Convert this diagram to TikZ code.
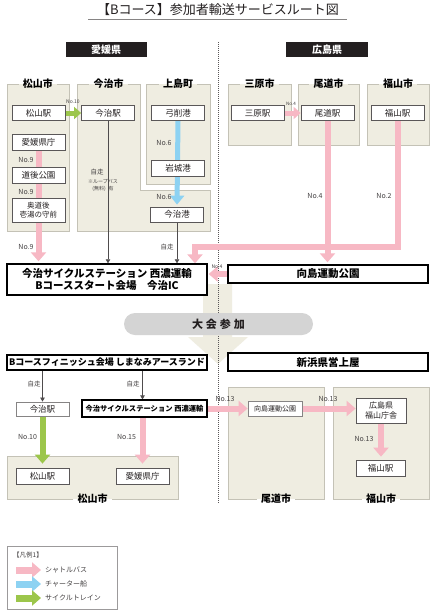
\documentclass[tikz,border=0pt]{standalone}
\usepackage{fontspec}
\setmainfont{Noto Sans CJK JP}
\usetikzlibrary{arrows.meta}
\definecolor{beige}{HTML}{EFEDE1}
\definecolor{regc}{HTML}{C4C2B6}
\definecolor{pinkc}{HTML}{F7B8C4}
\definecolor{bluec}{HTML}{8DD2F2}
\definecolor{greenc}{HTML}{9CC64B}
\definecolor{pillc}{HTML}{D4D4D4}
\definecolor{txt}{HTML}{231F20}
\pgfdeclarelayer{back}
\pgfdeclarelayer{bg}
\pgfdeclarelayer{arr}
\pgfsetlayers{back,bg,arr,main}
\tikzset{
  station/.style={draw=txt!75, line width=0.8pt, fill=white, minimum width=53pt, minimum height=15pt, inner sep=0pt, text=txt, font=\fontsize{8.5}{10}\selectfont, align=center},
  station2/.style={station, draw=txt!55},
  bigbox/.style={draw=black, line width=1.4pt, fill=white, inner sep=0pt, text=black, font=\bfseries\fontsize{10.5}{12.5}\selectfont, align=center},
  regtitle/.style={inner xsep=4pt, inner ysep=0pt, text=black, font=\bfseries\fontsize{10}{10}\selectfont},
  regline/.style={draw=regc, line width=0.8pt},
  header/.style={fill=txt, text=white, minimum height=15pt, inner sep=0pt, font=\bfseries\fontsize{10}{10}\selectfont},
  lbl/.style={text=txt!85, inner sep=0pt, font=\fontsize{#1}{#1}\selectfont},
  pinkarr/.style={draw=pinkc, line width=6pt, line join=miter, -{Triangle[width=15pt,length=9pt]}},
  pinksm/.style={draw=pinkc, line width=5pt, -{Triangle[width=12pt,length=7pt]}},
  bluearr/.style={draw=bluec, line width=5pt, -{Triangle[width=14pt,length=9pt]}},
  greenarr/.style={draw=greenc, line width=6pt, -{Triangle[width=15pt,length=9pt]}},
  greensm/.style={draw=greenc, line width=5pt, -{Triangle[width=12pt,length=7pt]}},
  walk/.style={draw=txt!80, line width=0.7pt, -{Triangle[width=4.5pt,length=4pt]}},
  legarr/.style={line width=7pt, -{Triangle[width=15pt,length=9pt]}},
}
\newcommand{\regT}[6]{%
  \fill[beige] (#2,#3) rectangle (#4,#5);
  \node[regtitle] (#1) at ({(#2+#4)/2},#3) {#6};
  \draw[regline] (#1.east) -- (#4,#3) -- (#4,#5) -- (#2,#5) -- (#2,#3) -- (#1.west);
}
\newcommand{\regB}[6]{%
  \fill[beige] (#2,#3) rectangle (#4,#5);
  \node[regtitle] (#1) at ({(#2+#4)/2},#5) {#6};
  \draw[regline] (#1.west) -- (#2,#5) -- (#2,#3) -- (#4,#3) -- (#4,#5) -- (#1.east);
}
\begin{document}
\begin{tikzpicture}[x=1pt,y=-1pt]
\begin{pgfonlayer}{back}
\fill[white] (0,0) rectangle (436,611);
\end{pgfonlayer}
\useasboundingbox (0,0) rectangle (436,611);

% title
\node[text=txt, inner sep=0pt, font=\fontsize{13}{13}\selectfont] (title) at (218,10) {【Bコース】参加者輸送サービスルート図};
\draw[txt!55, line width=0.8pt] (88,19.5) -- (347,19.5);

% headers
\node[header, minimum width=81pt] (hEhime) at (106,49.5) {愛媛県};
\node[header, minimum width=82pt] (hHiro) at (327,49.5) {広島県};

% regions
\begin{pgfonlayer}{bg}
  \regT{rMts}{7}{84}{69}{231}{松山市}
  \fill[beige] (77,84) -- (140,84) -- (140,190) -- (210,190) -- (210,231) -- (77,231) -- cycle;
  \node[regtitle] (rImb) at (108.5,84) {今治市};
  \draw[regline] (rImb.east) -- (140,84) -- (140,190) -- (210,190) -- (210,231) -- (77,231) -- (77,84) -- (rImb.west);
  \regT{rKami}{146}{84}{210}{184}{上島町}
  \regT{rMih}{228}{84}{291}{145}{三原市}
  \regT{rOno}{298}{84}{359}{145}{尾道市}
  \regT{rFuk}{367}{84}{429}{145}{福山市}
  \regB{rMts2}{7}{456}{178}{499}{松山市}
  \regB{rOno2}{228}{387}{324}{499}{尾道市}
  \regB{rFuk2}{333}{387}{429}{499}{福山市}
  % big beige arrow
  \fill[beige] (203,284) -- (232,284) -- (232,337) -- (248,337) -- (218,364) -- (188,337) -- (203,337) -- cycle;
\end{pgfonlayer}

% stations top
\node[station] (mtsSt) at (38.5,113) {松山駅};
\node[station] (imbSt) at (108,113) {今治駅};
\node[station] (yugeSt) at (178,113) {弓削港};
\node[station] (miharaSt) at (257.5,113) {三原駅};
\node[station] (onoSt) at (327.5,113) {尾道駅};
\node[station] (fukuSt) at (397.5,113) {福山駅};
\node[station, minimum height=16pt] (kencho) at (38.5,142) {愛媛県庁};
\node[station, minimum height=16pt] (dogo) at (38.5,175) {道後公園};
\node[station, minimum height=24pt, font=\fontsize{7.5}{9}\selectfont] (okudogo) at (38.5,210) {奥道後\\壱湯の守前};
\node[station, minimum height=16pt] (iwagi) at (178,168) {岩城港};
\node[station] (imbPort) at (177,214.5) {今治港};

% big boxes
\node[bigbox, minimum width=200pt, minimum height=31pt] (start) at (107,279.5) {今治サイクルステーション 西濃運輸\\Bコーススタート会場　今治IC};
\node[bigbox, minimum width=200pt, minimum height=18pt] (mukai) at (328,274) {向島運動公園};
\node[fill=pillc, rounded corners=11pt, minimum width=189pt, minimum height=22pt, inner sep=0pt, text=txt, font=\bfseries\fontsize{11}{11}\selectfont] (pill) at (218.5,324) {大\hspace{3pt}会\hspace{3pt}参\hspace{3pt}加};
\node[bigbox, minimum width=200pt, minimum height=15pt, font=\bfseries\fontsize{9}{10}\selectfont] (finish) at (107,362.5) {Bコースフィニッシュ会場 しまなみアースランド};
\node[bigbox, minimum width=200pt, minimum height=18pt] (shinhama) at (328,362) {新浜県営上屋};

% stations lower
\node[station2, minimum height=14pt] (imbSt2) at (42.5,409) {今治駅};
\node[bigbox, line width=1.2pt, minimum width=125pt, minimum height=17pt, font=\bfseries\fontsize{7.3}{8}\selectfont] (seino2) at (144.5,408.5) {今治サイクルステーション 西濃運輸};
\node[station2, minimum width=54pt, font=\fontsize{7}{8}\selectfont] (mukai2) at (275,408.5) {向島運動公園};
\node[station, minimum width=50pt, minimum height=25pt, font=\fontsize{8}{10}\selectfont] (chosha) at (381,410.5) {広島県\\福山庁舎};
\node[station, minimum width=49pt, minimum height=16pt] (fukuSt2) at (380.5,468) {福山駅};
\node[station, minimum height=16pt] (mtsSt2) at (42.5,476) {松山駅};
\node[station, minimum height=16pt] (kencho2) at (142.5,476) {愛媛県庁};

% labels
\node[lbl=5] (l1) at (73,102) {No.10};
\node[lbl=4.5] (l2) at (291,104) {No.4};
\node[lbl=7] (l3) at (26,160) {No.9};
\node[lbl=7] (l4) at (26,192) {No.9};
\node[lbl=7] (l5) at (26,247) {No.9};
\node[lbl=7] (l6) at (164,143) {No.6};
\node[lbl=7] (l7) at (164,197) {No.6};
\node[lbl=7] (l8) at (315,196) {No.4};
\node[lbl=7] (l9) at (384,196) {No.2};
\node[lbl=5] (l10) at (217,267) {No.4};
\node[lbl=6.5] (l11) at (97,172) {自走};
\node[lbl=5] (l12) at (103,182) {※ループバス};
\node[lbl=5] (l13) at (103,189) {(無料)\hspace{3pt}有};
\node[lbl=6.5] (l14) at (167,247) {自走};
\node[lbl=6.5] (l15) at (34,384) {自走};
\node[lbl=6.5] (l16) at (133,384) {自走};
\node[lbl=7] (l17) at (27.5,437) {No.10};
\node[lbl=7] (l18) at (126.5,437) {No.15};
\node[lbl=7] (l19) at (225,399) {No.13};
\node[lbl=7] (l20) at (328,399) {No.13};
\node[lbl=7] (l21) at (364,439) {No.13};

% legend
\node[draw=txt!45, line width=0.7pt, fill=white, minimum width=110pt, minimum height=63pt, inner sep=0pt] (legend) at (62,577.5) {};
\node[lbl=6.5, anchor=west] (legT) at (13,555) {【凡例1】};
\coordinate (lp1) at (16,570); \coordinate (lp2) at (41,570);
\coordinate (lb1) at (16,584); \coordinate (lb2) at (41,584);
\coordinate (lg1) at (16,598); \coordinate (lg2) at (41,598);
\node[lbl=7, anchor=west] (legP) at (45,570) {シャトルバス};
\node[lbl=7, anchor=west] (legB) at (45,584) {チャーター船};
\node[lbl=7, anchor=west] (legG) at (45,598) {サイクルトレイン};
\draw[legarr, draw=pinkc] (lp1) -- (lp2);
\draw[legarr, draw=bluec] (lb1) -- (lb2);
\draw[legarr, draw=greenc] (lg1) -- (lg2);

% connectors
\coordinate (n2) at (195,247);
\begin{pgfonlayer}{arr}
  \draw[txt!75, line width=0.9pt, dash pattern=on 1pt off 1pt] (218,42) -- (218,503);
  % Ehime top
  \draw[greensm] (mtsSt.east) -- (imbSt.west);
  \draw[pinkarr, shorten >=2pt] (kencho.south) -- (kencho.south |- start.north);
  \draw[bluearr, shorten >=2pt] (yugeSt.south) -- (imbPort.north);
  \draw[walk] (imbSt.south) -- (imbSt.south |- start.north);
  \draw[walk] (imbPort.south) -- (imbPort.south |- start.north);
  % Hiroshima top
  \draw[pinksm] (miharaSt.east) -- (onoSt.west);
  \draw[pinkarr] (fukuSt.south) |- (n2) -- (n2 |- start.north);
  \draw[pinkarr, shorten >=2pt] (onoSt.south) -- (onoSt.south |- mukai.north);
  \draw[pinkarr, shorten >=1pt] (mukai.west) -- (mukai.west -| start.east);
  % lower
  \draw[walk] (finish.south -| imbSt2.north) -- (imbSt2.north);
  \draw[walk] (finish.south -| kencho2.north) -- (kencho2.north |- seino2.north);
  \draw[greenarr, shorten >=4pt] (imbSt2.south) -- (mtsSt2.north);
  \draw[pinkarr, shorten >=4pt] (kencho2.north |- seino2.south) -- (kencho2.north);
  \draw[pinkarr] (seino2.east) -- (mukai2.west);
  \draw[pinkarr] (mukai2.east) -- (mukai2.east -| chosha.west);
  \draw[pinkarr, shorten >=3pt] (chosha.south) -- (chosha.south |- fukuSt2.north);
\end{pgfonlayer}
\end{tikzpicture}
\end{document}
